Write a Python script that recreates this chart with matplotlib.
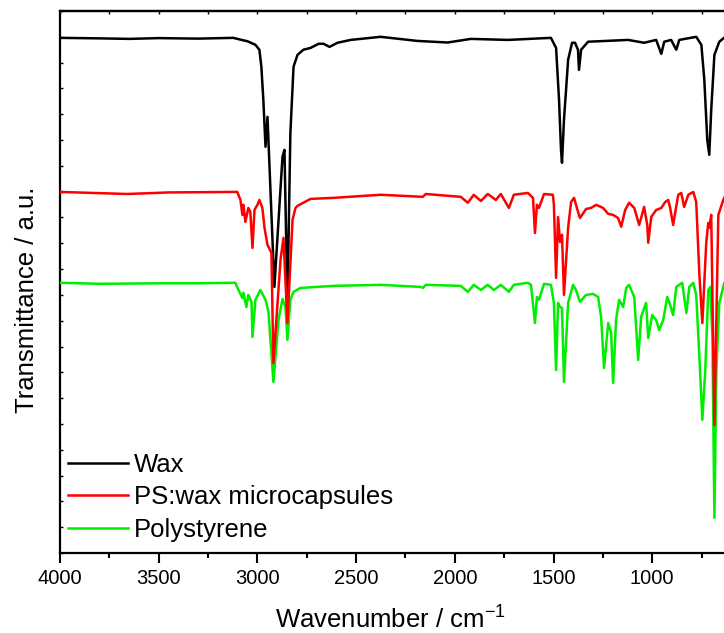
import matplotlib
matplotlib.use("Agg")
import matplotlib.pyplot as plt
from matplotlib.ticker import MultipleLocator

plt.rcParams['font.family'] = ['Liberation Sans', 'DejaVu Sans']
plt.rcParams['mathtext.fontset'] = 'custom'
plt.rcParams['mathtext.rm'] = 'Liberation Sans'
plt.rcParams['mathtext.it'] = 'Liberation Sans'

# spectra: wavenumber (cm-1) and offset transmittance (a.u.)
wax_wn = [4000, 3800, 3650, 3500, 3300, 3122, 3102, 3051, 3010, 2990, 2980, 2970,
          2959, 2949, 2914, 2873, 2863, 2848, 2833, 2817, 2797, 2767, 2731, 2690,
          2665, 2635, 2594, 2528, 2376, 2188, 2036, 1919, 1731, 1513, 1487, 1472,
          1462, 1457, 1447, 1426, 1406, 1391, 1376, 1371, 1360, 1325, 1122, 1041,
          980, 954, 939, 904, 894, 878, 863, 777, 751, 736, 721, 711, 701, 685,
          660, 630]
wax_t = [19.96, 19.94, 19.92, 19.95, 19.93, 19.96, 19.92, 19.83, 19.69, 19.50, 18.84, 17.56,
         15.74, 16.90, 10.31, 15.35, 15.62, 9.61, 16.28, 18.84, 19.30, 19.50, 19.57, 19.73,
         19.73, 19.61, 19.77, 19.88, 20.0, 19.84, 19.78, 19.92, 19.88, 19.96, 19.57, 17.56,
         15.62, 15.12, 16.78, 19.11, 19.77, 19.77, 19.50, 18.72, 19.50, 19.81, 19.88, 19.77,
         19.88, 19.34, 19.81, 19.88, 19.73, 19.50, 19.88, 20.0, 19.69, 18.33, 16.0, 15.43,
         17.17, 19.30, 19.81, 20.0]

caps_wn = [4000, 3660, 3450, 3122, 3102, 3086, 3076, 3071, 3061, 3046, 3036, 3025,
           3015, 3000, 2990, 2975, 2964, 2949, 2929, 2919, 2883, 2868, 2848, 2822,
           2807, 2797, 2731, 2614, 2376, 2162, 2147, 1970, 1934, 1904, 1868, 1833,
           1792, 1767, 1726, 1701, 1630, 1604, 1594, 1584, 1574, 1548, 1503, 1498,
           1487, 1477, 1467, 1457, 1447, 1426, 1411, 1396, 1376, 1366, 1335, 1310,
           1284, 1249, 1223, 1198, 1173, 1157, 1137, 1117, 1091, 1066, 1041, 1025,
           1020, 1005, 980, 954, 934, 919, 909, 894, 868, 853, 838, 817, 792, 777,
           761, 746, 731, 726, 716, 711, 701, 685, 665, 640, 630]
caps_t = [13.99, 13.91, 13.97, 13.99, 13.99, 13.68, 13.10, 13.49, 12.83, 13.37, 13.22, 11.82,
          13.29, 13.49, 13.68, 13.37, 12.60, 11.94, 11.63, 7.36, 11.36, 12.21, 8.91, 12.91,
          13.37, 13.45, 13.72, 13.76, 13.88, 13.80, 13.91, 13.80, 13.57, 13.88, 13.64, 13.91,
          13.68, 13.91, 13.37, 13.88, 13.95, 13.76, 12.40, 13.49, 13.37, 13.91, 13.88, 13.49,
          10.66, 13.02, 12.05, 12.33, 10.0, 12.60, 13.60, 13.76, 13.22, 12.98, 13.33, 13.37,
          13.49, 13.37, 13.14, 13.10, 12.98, 12.64, 13.29, 13.57, 13.37, 12.71, 13.41, 12.71,
          12.02, 13.02, 13.29, 13.37, 13.60, 13.68, 13.37, 12.71, 13.88, 13.95, 13.41, 13.88,
          13.99, 13.60, 10.78, 8.91, 11.28, 12.05, 12.79, 12.60, 13.10, 4.96, 13.10, 13.68,
          13.84]

ps_wn = [4000, 3800, 3492, 3300, 3122, 3112, 3096, 3076, 3071, 3056, 3046, 3030,
         3025, 3010, 2985, 2959, 2944, 2919, 2893, 2873, 2858, 2848, 2833, 2817,
         2782, 2614, 2376, 2173, 2162, 2147, 1970, 1934, 1904, 1868, 1833, 1802,
         1767, 1726, 1701, 1630, 1614, 1594, 1584, 1574, 1548, 1513, 1498, 1487,
         1477, 1467, 1457, 1447, 1426, 1401, 1386, 1366, 1335, 1300, 1274, 1259,
         1244, 1223, 1208, 1198, 1183, 1168, 1147, 1132, 1117, 1091, 1071, 1056,
         1031, 1020, 1000, 980, 965, 944, 924, 914, 894, 878, 848, 827, 812, 792,
         777, 761, 746, 731, 716, 706, 695, 685, 675, 660, 635, 630]
ps_t = [10.47, 10.43, 10.45, 10.45, 10.47, 10.47, 10.19, 9.88, 10.08, 9.53, 10.0, 9.73,
        8.37, 9.81, 10.19, 9.81, 9.34, 6.63, 9.03, 9.84, 9.53, 8.26, 9.81, 10.12,
        10.27, 10.35, 10.39, 10.31, 10.27, 10.39, 10.35, 10.12, 10.39, 10.19, 10.39, 10.19,
        10.39, 10.12, 10.39, 10.47, 10.39, 8.91, 9.92, 9.81, 10.43, 10.39, 9.69, 7.09,
        9.69, 9.53, 9.50, 6.63, 9.69, 10.39, 10.19, 9.73, 10.0, 10.04, 9.92, 9.15,
        7.17, 8.91, 8.53, 6.59, 9.03, 9.81, 9.53, 10.27, 10.39, 9.92, 7.48, 9.15,
        9.69, 8.33, 9.22, 9.03, 8.64, 9.03, 9.92, 9.73, 9.22, 10.31, 10.47, 9.30, 10.31, 10.47,
        10.0, 7.60, 5.16, 7.09, 10.19, 10.31, 8.37, 1.36, 7.09, 9.69, 10.47, 10.51]

labels = ['Wax', 'PS:wax microcapsules', 'Polystyrene']

fig = plt.figure(figsize=(7.24, 6.33), dpi=100)
ax = fig.add_axes([0.0829, 0.1264, 0.927, 0.8562])

l1, = ax.plot(wax_wn, wax_t, color='black', lw=1.8, zorder=2)
l2, = ax.plot(caps_wn, caps_t, color='#ff0000', lw=1.8, zorder=4)
l3, = ax.plot(ps_wn, ps_t, color='#00ee00', lw=1.8, zorder=3)

ax.set_xlim(4000, 600)
ax.set_ylim(0, 21)

for s in ax.spines.values():
    s.set_linewidth(1.6)

ax.xaxis.set_major_locator(MultipleLocator(500))
ax.xaxis.set_minor_locator(MultipleLocator(250))
ax.tick_params(axis='x', which='major', direction='out', length=7.5, width=1.5,
               labelsize=14.5, pad=4)
ax.tick_params(axis='x', which='minor', direction='out', length=3.5, width=1.5)
ax.yaxis.set_major_locator(MultipleLocator(1))
ax.tick_params(axis='y', which='major', direction='in', length=2.5, width=1,
               labelleft=False)

top = ax.secondary_xaxis('top')
top.xaxis.set_major_locator(MultipleLocator(250))
top.tick_params(direction='in', length=2.5, width=1, labeltop=False)
top.spines['top'].set_linewidth(1.6)

ax.set_xlabel('Wavenumber / cm$^{-1}$', fontsize=18.5)
ax.xaxis.set_label_coords(0.493, -0.098)
ax.set_ylabel('Transmittance / a.u.', fontsize=18.5)
ax.yaxis.set_label_coords(-0.032, 0.467)

leg = ax.legend([l1, l2, l3], labels, loc='upper left', bbox_to_anchor=(0.012, 0.185),
                frameon=False, fontsize=18.5, handlelength=2.33, handletextpad=0.23,
                labelspacing=0.33, borderpad=0, borderaxespad=0)
for h in leg.get_lines():
    h.set_linewidth(1.8)

fig.savefig('out.png', dpi=100)
